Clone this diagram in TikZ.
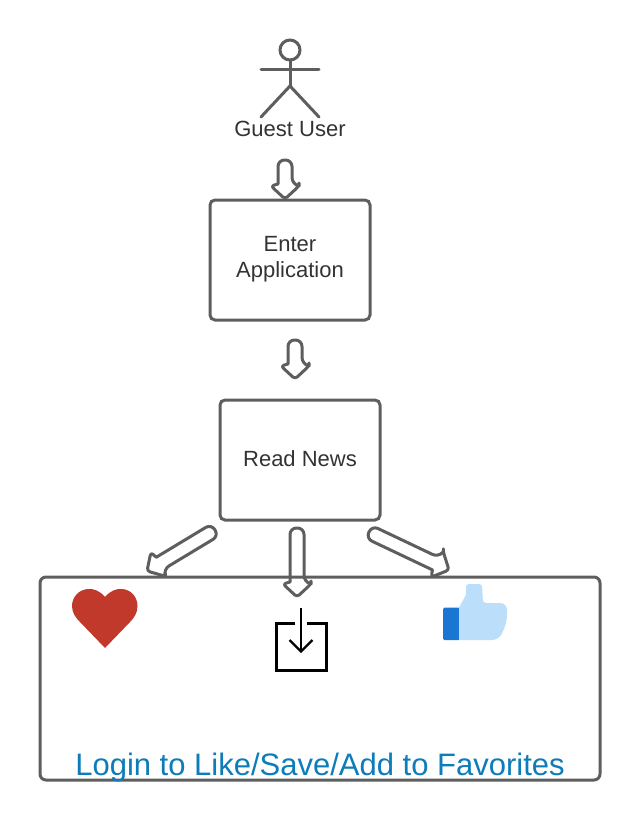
\documentclass[tikz,border=0pt]{standalone}
\usepackage{fontspec}
\setmainfont{Liberation Sans}
\usetikzlibrary{calc}
\definecolor{edge}{HTML}{5E5E5E}
\definecolor{ink}{HTML}{333333}
\definecolor{loginblue}{HTML}{0C7CBA}
\definecolor{heartred}{HTML}{C0392B}
\definecolor{thumbdark}{HTML}{1976D2}
\definecolor{thumblight}{HTML}{BBDEFB}
\tikzset{
  stepbox/.style={draw=edge,line width=3pt,rounded corners=5pt,inner sep=0pt,outer sep=0pt,
    minimum width=160pt,minimum height=120pt,align=center,text=ink,font=\fontsize{22}{26.5}\selectfont},
  outerbox/.style={draw=edge,line width=3pt,rounded corners=6pt,inner sep=0pt,outer sep=0pt,
    minimum width=560pt,minimum height=203pt},
  label/.style={inner sep=0pt,outer sep=0pt,text=ink,font=\fontsize{22}{26.5}\selectfont},
  logintext/.style={inner sep=0pt,outer sep=0pt,text=loginblue,font=\fontsize{31}{36}\selectfont},
  figureline/.style={draw=edge,line width=3pt,line cap=round},
  blockline/.style={draw=edge,line width=3pt,line join=round},
  iconline/.style={draw=black,line width=3pt},
}
% block arrow from coordinate #1 (round end) to coordinate #2 (tip)
\newcommand{\blockarrow}[2]{%
  \draw[blockline]
    [rounded corners=6.5pt]
    (#1) -- ($(#1)!7pt!90:(#2)$)
    -- ($($(#2)!15pt!(#1)$)!7pt!90:(#2)$)
    [sharp corners]
    -- ($($(#2)!13pt!(#1)$)!14pt!90:(#2)$)
    [rounded corners=3pt]
    -- ($($(#2)!13pt!(#1)$)!14pt!90:(#2)$)
    -- (#2)
    -- ($($(#2)!13pt!(#1)$)!14pt!-90:(#2)$)
    [sharp corners]
    -- ($($(#2)!15pt!(#1)$)!7pt!-90:(#2)$)
    [rounded corners=6.5pt]
    -- ($(#1)!7pt!-90:(#2)$)
    -- (#1);%
}
\begin{document}
\begin{tikzpicture}[x=1pt,y=-1pt]
\useasboundingbox (0,0) rectangle (640,820);
\fill[white] (0,0) rectangle (640,820);

% actor
\node[draw=edge,line width=3pt,circle,minimum size=20pt,inner sep=0pt,outer sep=0pt] (head) at (290,50) {};
\coordinate (hip) at (290,86);
\coordinate (armL) at (261,69);
\coordinate (armR) at (319,69);
\coordinate (footL) at (261,117);
\coordinate (footR) at (319,117);
\draw[figureline] (head.south) -- (hip);
\draw[figureline] (armL) -- (armR);
\draw[figureline] (footL) -- (hip) -- (footR);
\node[label] (guest) at (290,128.5) {Guest User};

% boxes
\node[stepbox] (enter) at (290,260) {Enter\\Application\rule[-6.6pt]{0pt}{0pt}};
\node[stepbox] (read) at (300,460) {Read News\rule[-2pt]{0pt}{0pt}};

% block arrows
\coordinate (a1s) at (285,160);
\coordinate (a1t) at (285,199);
\coordinate (a2s) at (295,340);
\coordinate (a2t) at (295,379);
\coordinate (a3s) at (297,528);
\coordinate (a3t) at (297,597);
\coordinate (a4s) at (215,530);
\coordinate (a4t) at (147,571);
\coordinate (a5s) at (369,532);
\coordinate (a5t) at (449,570);
\blockarrow{a1s}{a1t}
\blockarrow{a2s}{a2t}
\blockarrow{a3s}{a3t}
\blockarrow{a4s}{a4t}
\blockarrow{a5s}{a5t}

% login box
\node[outerbox] (login) at (320,678.5) {};
\node[logintext,anchor=base] (logintxt) at (320,775) {Login to Like/Save/Add to Favorites};

% heart
\fill[heartred] (105,597)
  .. controls (100,591) and (94,588.5) .. (88,589)
  .. controls (79,589.5) and (72,597) .. (72,606)
  .. controls (72,613) and (76,618) .. (80,622)
  -- (105,648) -- (130,622)
  .. controls (134,618) and (137.5,613) .. (137.5,606)
  .. controls (137.5,597) and (131,589.5) .. (122,589)
  .. controls (116,588.5) and (110,591) .. (105,597) -- cycle;

% download icon
\draw[iconline] (295,623) -- (276,623) -- (276,670) -- (326,670) -- (326,623) -- (307,623);
\draw[draw=black,line width=2.4pt] (301,608) -- (301,651);
\draw[draw=black,line width=2.4pt] (289.5,640) -- (301,651.5) -- (312.5,640);

% thumb
\fill[thumbdark,rounded corners=1.5pt] (460,607.5) -- (443,607.5) -- (443,640) -- (460,640) -- cycle;
\fill[thumblight] (459,640) -- (459,607.5) -- (466,595)
  [rounded corners=3pt] -- (466,584) -- (482,584) -- (483,603)
  [rounded corners=7pt] -- (507,603) -- (507,622)
  [rounded corners=7pt] -- (499,640) [sharp corners] -- cycle;
\end{tikzpicture}
\end{document}
